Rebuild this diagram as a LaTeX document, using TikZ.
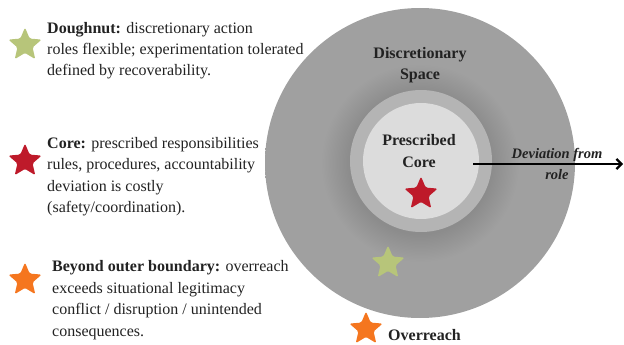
\documentclass[tikz,border=0pt]{standalone}
\usepackage{fontspec}
\setmainfont{Liberation Serif}
\usetikzlibrary{shapes.geometric,arrows.meta}
\definecolor{inkdark}{HTML}{222222}
\definecolor{outergray}{HTML}{A0A0A0}
\definecolor{halodark}{HTML}{8C8C8C}
\definecolor{ringgray}{HTML}{B4B4B4}
\definecolor{coregray}{HTML}{DCDCDC}
\definecolor{stargreen}{HTML}{B7C57A}
\definecolor{starred}{HTML}{BE1A2A}
\definecolor{starorange}{HTML}{F5761F}
\pgfdeclareradialshading{halo}{\pgfpoint{0bp}{0bp}}{color(0bp)=(halodark); color(11.5bp)=(halodark); color(16bp)=(outergray); color(50bp)=(outergray)}
\begin{document}
\begin{tikzpicture}[x=1pt,y=-1pt,
    legend/.style={anchor=base west,align=left,inner sep=0pt,text=inkdark,font=\fontsize{16}{21.5}\selectfont},
    tag/.style={align=center,inner sep=0pt,text=inkdark,font=\bfseries\fontsize{16}{21.5}\selectfont},
    starmark/.style={star,star points=5,star point ratio=2.2,minimum size=35pt,inner sep=0pt,rounded corners=1.5pt,draw=none}]
  \useasboundingbox (0,0) rectangle (624,345);
  % the three zones
  \shade[shading=halo] (420,163) circle (155);
  \fill[ringgray] (421,161) circle (71);
  \fill[coregray] (421,161) circle (58);
  \node[tag] (space) at (420,65) {Discretionary\\Space};
  \node[tag] (core) at (419,151) {Prescribed\\Core};
  % stars on the zones
  \node[starmark,fill=starred] (corestar) at (421,194) {};
  \node[starmark,fill=stargreen] (ringstar) at (388,263) {};
  \node[starmark,fill=starorange] (overstar) at (366,329) {};
  \node[tag,anchor=base west] (overreach) at (388,340) {Overreach};
  % deviation arrow
  \coordinate (devstart) at (473,164);
  \coordinate (devend) at (623,164);
  \draw[line width=2.2pt,-{Straight Barb[length=5pt,width=10pt]}] (devstart) -- (devend);
  \node[tag,font=\bfseries\itshape\fontsize{14.5}{21}\selectfont] (deviation) at (557,164) {Deviation from\\role};
  % legend (anchored at the baseline of the last line)
  \node[starmark,fill=stargreen] (legdough) at (25,45) {};
  \node[legend] (doughnut) at (47,76) {\textbf{Doughnut:} discretionary action\\roles flexible; experimentation tolerated\\defined by recoverability.};
  \node[starmark,fill=starred] (legcore) at (25,161) {};
  \node[legend] (coretext) at (47,212.5) {\textbf{Core:} prescribed responsibilities\\rules, procedures, accountability\\deviation is costly\\(safety/coordination).};
  \node[starmark,fill=starorange] (legbeyond) at (25,280) {};
  \node[legend] (beyond) at (52,336) {\textbf{Beyond outer boundary:} overreach\\exceeds situational legitimacy\\conflict / disruption / unintended\\consequences.};
\end{tikzpicture}
\end{document}
